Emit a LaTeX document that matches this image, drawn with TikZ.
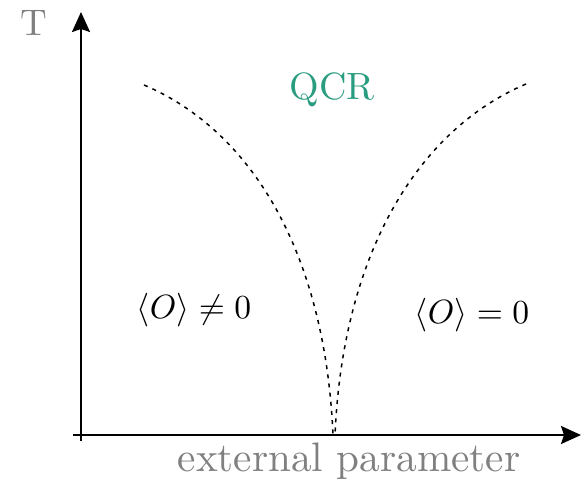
\documentclass[tikz,border=0pt]{standalone}
\usetikzlibrary{arrows.meta}
\definecolor{qcrgreen}{RGB}{42,157,128}
\definecolor{labgrey}{RGB}{128,128,128}
\tikzset{
  axis/.style={line width=1pt,-{Stealth[length=10pt,width=9pt,inset=1.5pt]}},
  crossover/.style={line width=0.75pt,dash pattern=on 2pt off 2.6pt},
  txt/.style={font=\fontsize{10}{12}\selectfont,inner sep=0pt,transform shape},
  greylab/.style={txt,text=labgrey},
}
\begin{document}
\begin{tikzpicture}[x=0.5pt,y=-0.5pt]
\useasboundingbox (0,0) rectangle (582,482);
\coordinate (ybot) at (81,441);
\coordinate (ytop) at (81,12);
\coordinate (xleft) at (73,435);
\coordinate (xright) at (581,435);
\draw[axis] (ybot) -- (ytop);
\draw[axis] (xleft) -- (xright);
\coordinate (ls) at (144,85);
\coordinate (le) at (333,435);
\coordinate (rs) at (526,84);
\coordinate (re) at (335,435);
\draw[crossover] (ls) .. controls (250,130) and (325,250) .. (le);
\draw[crossover] (rs) .. controls (420,129) and (343,250) .. (re);
\node[greylab,scale=1.85] (T) at (34,23) {T};
\node[greylab,scale=2.06] (xl) at (349,461) {external parameter};
\node[txt,text=qcrgreen,scale=1.9] (qcr) at (332,90) {QCR};
\node[txt,scale=1.68] (ord) at (194,310) {$\langle O\rangle\neq 0$};
\node[txt,scale=1.68] (dis) at (472,315) {$\langle O\rangle = 0$};
\end{tikzpicture}
\end{document}
